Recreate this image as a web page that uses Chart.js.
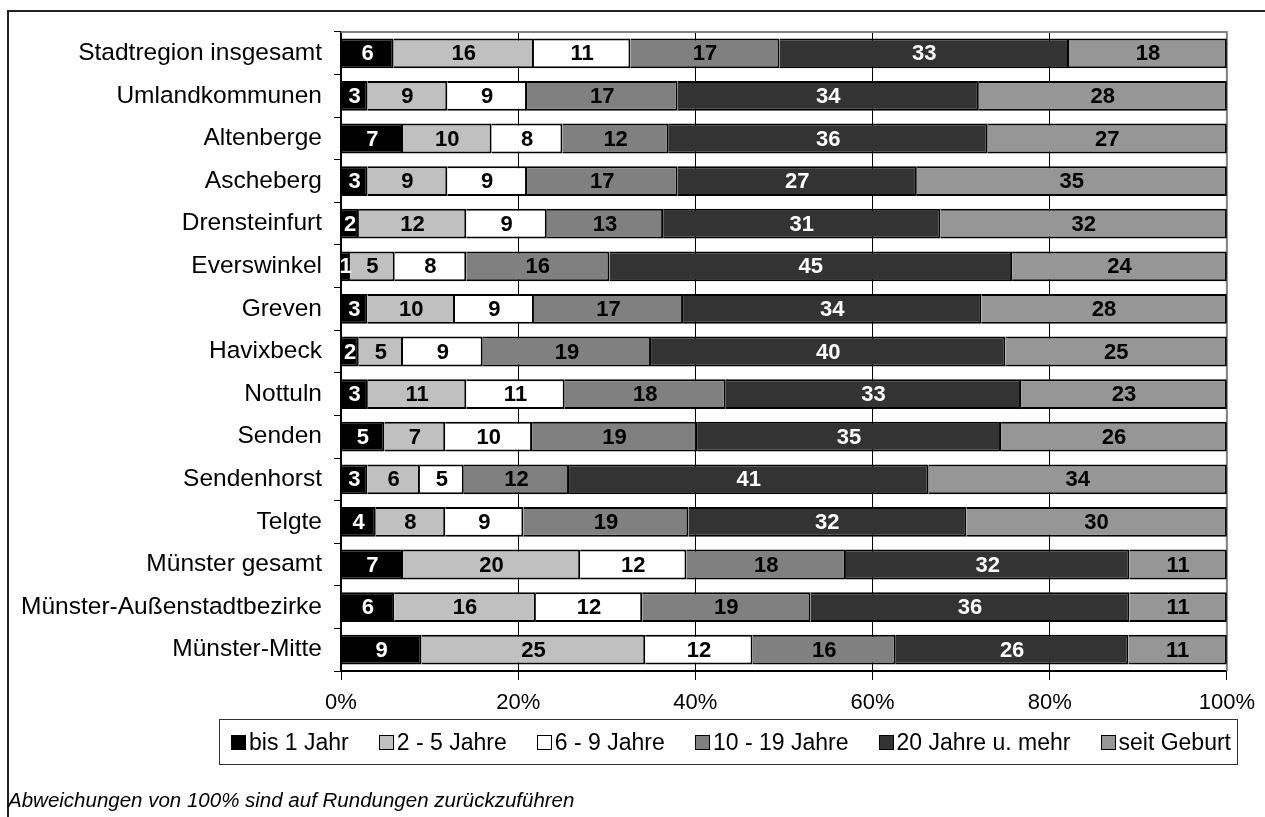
<!DOCTYPE html>
<html>
<head>
<meta charset="utf-8">
<script src="https://cdn.jsdelivr.net/npm/chart.js@4.4.1/dist/chart.umd.min.js"></script>
<style>
  body { margin: 0; background: #fff; font-family: Arial, "Liberation Sans", sans-serif; }
  #wrap { position: relative; width: 1265px; height: 817px; overflow: hidden; }
  #frame { position: absolute; left: 7px; top: 10px; width: 1400px; height: 900px;
           border-left: 2px solid #222; border-top: 2px solid #222; }
  #chart { position: absolute; left: 0; top: 0; }
  #legend { position: absolute; left: 219px; top: 719px; width: 1019px; height: 46px;
            border: 1px solid #333; box-sizing: border-box; display: flex; align-items: center;
            justify-content: space-between; padding: 0 6px 0 11px; font-size: 23px; color: #000; }
  .item { display: flex; align-items: center; white-space: nowrap; }
  .sw { width: 15px; height: 15px; border: 1px solid #000; box-sizing: border-box; margin-right: 3px; }
  #note { position: absolute; left: 8px; top: 788px; font-style: italic; font-size: 20.5px; color: #000; }
</style>
</head>
<body>
<div id="wrap">
  <div id="frame"></div>
  <canvas id="chart" width="1265" height="817"></canvas>
  <div id="legend"></div>
  <div id="note">Abweichungen von 100% sind auf Rundungen zurückzuführen</div>
</div>
<script>
// categories (top to bottom)
const categories = ["Stadtregion insgesamt", "Umlandkommunen", "Altenberge", "Ascheberg",
  "Drensteinfurt", "Everswinkel", "Greven", "Havixbeck", "Nottuln", "Senden", "Sendenhorst",
  "Telgte", "Münster gesamt", "Münster-Außenstadtbezirke", "Münster-Mitte"];

// series names
const seriesNames = ["bis 1 Jahr", "2 - 5 Jahre", "6 - 9 Jahre", "10 - 19 Jahre",
  "20 Jahre u. mehr", "seit Geburt"];

// values in percent, as printed in the bars
const bis1Jahr      = [6, 3, 7, 3, 2, 1, 3, 2, 3, 5, 3, 4, 7, 6, 9];
const jahre2bis5    = [16, 9, 10, 9, 12, 5, 10, 5, 11, 7, 6, 8, 20, 16, 25];
const jahre6bis9    = [11, 9, 8, 9, 9, 8, 9, 9, 11, 10, 5, 9, 12, 12, 12];
const jahre10bis19  = [17, 17, 12, 17, 13, 16, 17, 19, 18, 19, 12, 19, 18, 19, 16];
const jahre20plus   = [33, 34, 36, 27, 31, 45, 34, 40, 33, 35, 41, 32, 32, 36, 26];
const seitGeburt    = [18, 28, 27, 35, 32, 24, 28, 25, 23, 26, 34, 30, 11, 11, 11];

// x axis tick labels
const xTicks = ["0%", "20%", "40%", "60%", "80%", "100%"];

const series = [bis1Jahr, jahre2bis5, jahre6bis9, jahre10bis19, jahre20plus, seitGeburt];
const fills = ["#000000", "#c0c0c0", "#ffffff", "#808080", "#333333", "#969696"];
const labelColors = ["#fff", "#000", "#000", "#000", "#fff", "#000"];

// rows are shown as 100% stacks
const rowTotals = categories.map((c, i) => series.reduce((s, arr) => s + arr[i], 0));

// legend in html
const legendEl = document.getElementById("legend");
seriesNames.forEach((name, k) => {
  const it = document.createElement("div");
  it.className = "item";
  it.innerHTML = '<span class="sw" style="background:' + fills[k] + '"></span>' + name;
  legendEl.appendChild(it);
});

// grey frame at top and right of the plot area
const plotFrame = {
  id: "plotFrame",
  beforeDatasetsDraw(chart) {
    const a = chart.chartArea, ctx = chart.ctx;
    ctx.save();
    ctx.strokeStyle = "#808080";
    ctx.lineWidth = 2;
    ctx.beginPath();
    ctx.moveTo(a.left, a.top);
    ctx.lineTo(a.right, a.top);
    ctx.lineTo(a.right, a.bottom);
    ctx.stroke();
    ctx.restore();
  }
};

// value labels in the middle of each segment
const segLabels = {
  id: "segLabels",
  afterDatasetsDraw(chart) {
    const ctx = chart.ctx;
    ctx.save();
    ctx.font = "bold 22px Arial, 'Liberation Sans', sans-serif";
    ctx.textAlign = "center";
    ctx.textBaseline = "middle";
    chart.data.datasets.forEach((ds, k) => {
      chart.getDatasetMeta(k).data.forEach((bar, i) => {
        const p = bar.getProps(["x", "y", "base"], true);
        ctx.fillStyle = labelColors[k];
        ctx.fillText(String(series[k][i]), (p.x + p.base) / 2, p.y + 1);
      });
    });
    ctx.restore();
  }
};

const ctx = document.getElementById("chart").getContext("2d");
new Chart(ctx, {
  type: "bar",
  plugins: [plotFrame, segLabels],
  data: {
    labels: categories,
    datasets: series.map((arr, k) => ({
      label: seriesNames[k],
      data: arr.map((v, i) => v / rowTotals[i] * 100),
      backgroundColor: fills[k],
      borderColor: "#000",
      borderWidth: 2,
      borderSkipped: "start",
      categoryPercentage: 1,
      barPercentage: 0.7
    }))
  },
  options: {
    indexAxis: "y",
    responsive: false,
    animation: false,
    layout: { padding: { top: 32, right: 35, left: 0, bottom: 0 } },
    plugins: { legend: { display: false }, tooltip: { enabled: false } },
    scales: {
      x: {
        stacked: true,
        min: 0, max: 100,
        afterFit: s => { s.height = 146; },
        afterBuildTicks: s => { s.ticks = xTicks.map((t, j) => ({ value: j * 20 })); },
        ticks: {
          callback: (v, j) => xTicks[j],
          font: { size: 22, family: "Arial, 'Liberation Sans', sans-serif" },
          color: "#000",
          padding: 10,
          maxRotation: 0
        },
        grid: {
          color: c => (c.index === 5 ? "#808080" : "#000"),
          lineWidth: 1,
          tickLength: 9,
          tickColor: "#000"
        },
        border: { color: "#000", width: 2 }
      },
      y: {
        stacked: true,
        afterFit: s => { s.width = 341; },
        ticks: {
          font: { size: 24.5, family: "Arial, 'Liberation Sans', sans-serif" },
          color: "#000",
          padding: 12
        },
        grid: { drawOnChartArea: false, tickLength: 7, tickColor: "#000", offset: true },
        border: { color: "#000", width: 2 }
      }
    }
  }
});
</script>
</body>
</html>
